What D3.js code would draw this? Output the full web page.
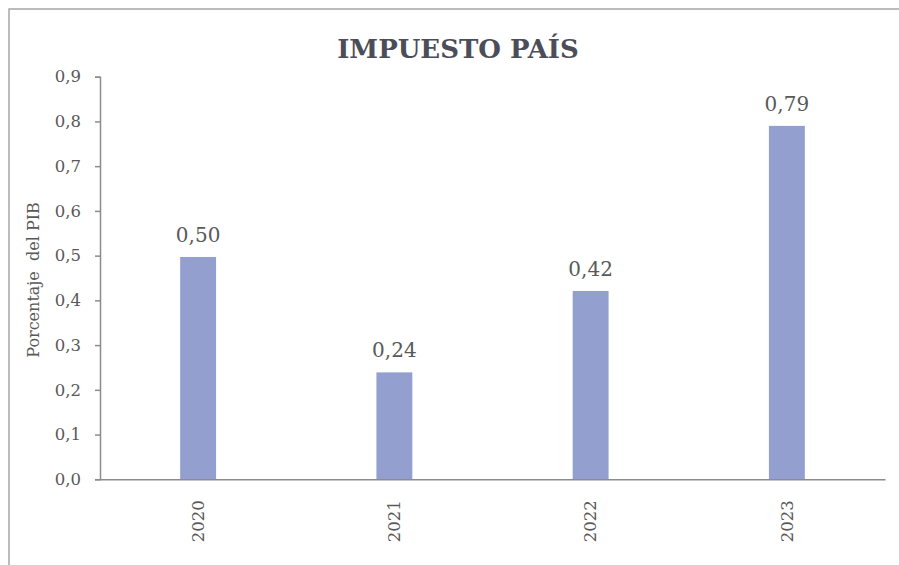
<!DOCTYPE html>
<html>
<head>
<meta charset="utf-8">
<script src="https://cdn.jsdelivr.net/npm/d3@7"></script>
<style>
  body { margin: 0; background: #fff; overflow: hidden; }
  text { font-family: "DejaVu Serif", serif; fill: #595959; }
</style>
</head>
<body>
<svg id="chart" width="899" height="565"></svg>
<script>
var years = ["2020", "2021", "2022", "2023"],
    values = [0.497, 0.239, 0.421, 0.79],
    valueLabels = ["0,50", "0,24", "0,42", "0,79"],
    yTicks = [0, 0.1, 0.2, 0.3, 0.4, 0.5, 0.6, 0.7, 0.8, 0.9],
    title = "IMPUESTO PAÍS",
    yTitle = "Porcentaje  del PIB";

var svg = d3.select("#chart"),
    plotL = 100, plotR = 885, plotT = 76.7, plotB = 479.3,
    barColor = "#939fcf",
    axisColor = "#8c8c8c";

// outer frame: only the top and left edges show
svg.append("path")
    .attr("d", "M9,570V9H905")
    .attr("fill", "none")
    .attr("stroke", "#a6a6a6")
    .attr("stroke-width", 1.5);

var x = d3.scaleBand().domain(years).range([plotL, plotR]).paddingInner(0.817).paddingOuter(0.4085);
var y = d3.scaleLinear().domain([0, 0.9]).range([plotB, plotT]);

svg.append("text")
    .attr("x", 458).attr("y", 58)
    .attr("text-anchor", "middle")
    .style("font-size", "26px")
    .style("font-weight", "bold")
    .style("fill", "#4b4e58")
    .text(title);

// y axis
var yAxis = svg.append("g")
    .attr("transform", "translate(" + plotL + ",0)")
    .call(d3.axisLeft(y).tickValues(yTicks).tickSize(5).tickPadding(14)
        .tickFormat(function (d) { return d3.format(".1f")(d).replace(".", ","); }));
yAxis.select(".domain").attr("stroke", axisColor).attr("stroke-width", 1.5);
yAxis.selectAll(".tick line").attr("stroke", axisColor).attr("stroke-width", 1.5);
yAxis.selectAll(".tick text")
    .style("font-size", "16.5px")
    .style("font-family", "'DejaVu Serif', serif")
    .attr("fill", "#595959");

// bars
svg.selectAll(".bar")
    .data(values)
    .enter().append("rect").attr("class", "bar")
    .attr("x", function (d, i) { return x(years[i]); })
    .attr("width", x.bandwidth())
    .attr("y", function (d) { return y(d); })
    .attr("height", function (d) { return y(0) - y(d); })
    .attr("fill", barColor);

// value labels
svg.selectAll(".vlab")
    .data(values)
    .enter().append("text").attr("class", "vlab")
    .attr("x", function (d, i) { return x(years[i]) + x.bandwidth() / 2; })
    .attr("y", function (d) { return y(d) - 15; })
    .attr("text-anchor", "middle")
    .style("font-size", "20px")
    .text(function (d, i) { return valueLabels[i]; });

// x axis
var xAxis = svg.append("g")
    .attr("transform", "translate(0," + plotB + ")")
    .call(d3.axisBottom(x).tickSize(0).tickPadding(0));
xAxis.select(".domain").attr("stroke", axisColor).attr("stroke-width", 1.5);
xAxis.selectAll(".tick text")
    .attr("transform", "rotate(-90)")
    .attr("text-anchor", "end")
    .attr("x", -21)
    .attr("y", 0)
    .attr("dy", "0.35em")
    .style("font-size", "16.5px")
    .style("font-family", "'DejaVu Serif', serif")
    .attr("fill", "#595959");

svg.append("text")
    .attr("transform", "translate(39,280) rotate(-90)")
    .attr("text-anchor", "middle")
    .attr("xml:space", "preserve")
    .style("white-space", "pre")
    .style("font-size", "16px")
    .text(yTitle);
</script>
</body>
</html>
